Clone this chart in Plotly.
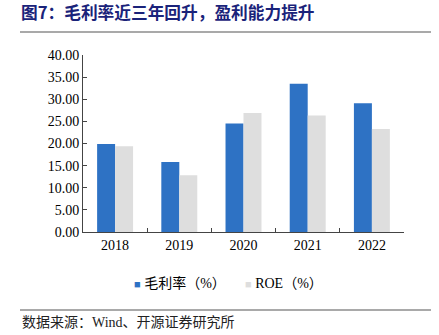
import plotly.graph_objects as go

years = ["2018", "2019", "2020", "2021", "2022"]
gross_margin = [19.9, 15.8, 24.5, 33.5, 29.1]
roe = [19.4, 12.8, 26.9, 26.3, 23.3]
series_names = ["毛利率（%）", "ROE（%）"]
series_colors = ["#2E72C4", "#DEDEDE"]
y_ticks = [0, 5, 10, 15, 20, 25, 30, 35, 40]
y_tick_text = [f"{v:.2f}" for v in y_ticks]

title_text = "图7：毛利率近三年回升，盈利能力提升"
source_text = "数据来源：Wind、开源证券研究所"

font_main = "Liberation Serif, Times New Roman, Noto Sans CJK SC, serif"
font_cjk = "Liberation Serif, Noto Sans CJK SC, serif"

fig = go.Figure()
fig.add_trace(go.Bar(x=years, y=gross_margin, name=series_names[0],
                     marker=dict(color=series_colors[0], line=dict(width=0))))
fig.add_trace(go.Bar(x=years, y=roe, name=series_names[1],
                     marker=dict(color=series_colors[1], line=dict(width=0))))

fig.update_layout(
    width=439, height=335,
    margin=dict(l=83, r=35, t=55, b=103),
    paper_bgcolor="white", plot_bgcolor="white",
    barmode="group", bargap=0.44, bargroupgap=0,
    font=dict(family=font_main, size=14, color="#000000"),
    showlegend=False,
    title=dict(text=f"<b>{title_text}</b>", x=21/439, xanchor="left",
               y=1 - 13/335, yanchor="middle",
               font=dict(size=16.7, color="#1A237A", family="Noto Sans CJK SC, serif")),
    xaxis=dict(showline=True, linecolor="#444444", linewidth=1,
               ticks="inside", ticklen=4, tickcolor="#444444",
               tickson="boundaries", showgrid=False,
               tickfont=dict(size=14, family=font_main)),
    yaxis=dict(range=[0, 40], tickvals=y_ticks, ticktext=y_tick_text,
               showline=True, linecolor="#444444", linewidth=1,
               ticks="inside", ticklen=4, tickcolor="#444444",
               showgrid=False, zeroline=False,
               tickfont=dict(size=14, family=font_main)),
)

# legend drawn as text entries
legend_x = [132, 243]
for name, color, lx in zip(series_names, series_colors, legend_x):
    fig.add_annotation(
        text=f'<span style="color:{color};font-size:11px">■</span> {name}',
        xref="paper", yref="paper",
        x=(lx - 83) / 321, y=-(283 - 232) / 177,
        xanchor="left", yanchor="middle", showarrow=False,
        font=dict(size=14, color="#000000", family=font_cjk))

fig.add_shape(type="line", xref="paper", yref="paper",
              x0=-63/321, x1=(431-83)/321, y0=1 + 23/177, y1=1 + 23/177,
              line=dict(color="#555555", width=1.2))
fig.add_shape(type="line", xref="paper", yref="paper",
              x0=-63/321, x1=(431-83)/321, y0=-(310-232)/177, y1=-(310-232)/177,
              line=dict(color="#555555", width=1.2))
fig.add_annotation(text=source_text, xref="paper", yref="paper",
                   x=-63/321, y=-(322-232)/177, xanchor="left", yanchor="middle",
                   showarrow=False,
                   font=dict(size=14, color="#222222", family=font_cjk))

fig.write_html("out.html")
